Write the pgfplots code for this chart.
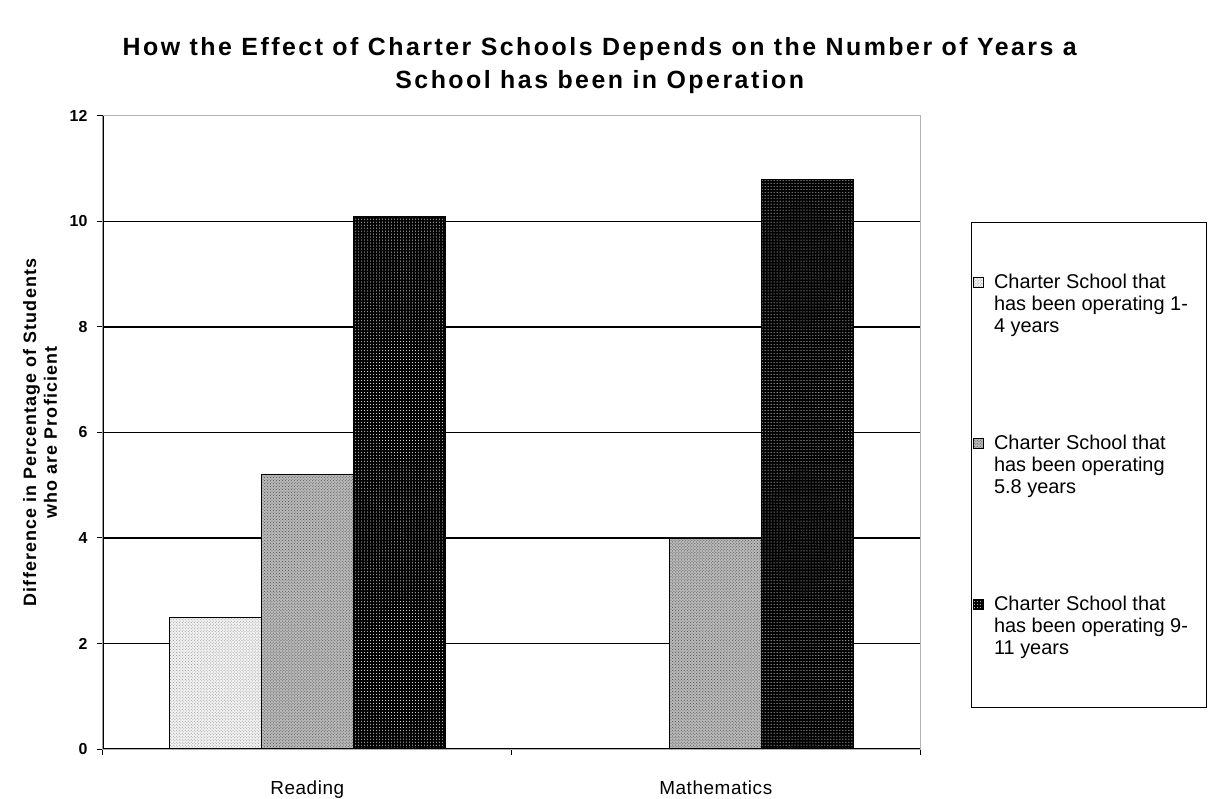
\documentclass[border=0pt]{standalone}
\usepackage{pgfplots}
\pgfplotsset{compat=1.18}
\usepackage{fontspec}
\setmainfont{Liberation Sans}
\usetikzlibrary{patterns}
\pgfplotsset{sqlegend/.style={legend image code/.code={\draw[##1, line width=0.6bp] (0bp,17bp) rectangle (10bp,27bp);}}}
\begin{document}
\begin{tikzpicture}
\useasboundingbox (-103bp,-50bp) rectangle (1108bp,749bp);
\begin{axis}[
  scale only axis, width=817bp, height=633bp,
  xmin=-0.5, xmax=1.5, ymin=0, ymax=12,
  ybar=0pt, bar width=0.225,
  axis line style={draw=gray!60, line width=1bp},
  xtick pos=bottom, ytick pos=left,
  xtick={-0.5,0.5,1.5}, xticklabels={},
  extra x ticks={0,1}, extra x tick labels={Reading,Mathematics},
  extra x tick style={major tick length=0pt, xticklabel style={yshift=-28bp}},
  xticklabel style={font=\fontsize{19}{21}\selectfont\addfontfeature{LetterSpace=3}},
  ytick={0,2,...,10}, extra y ticks={12}, extra y tick style={grid=none},
  yticklabel style={font=\fontsize{16}{18}\selectfont\bfseries, xshift=-6bp},
  /pgf/number format/assume math mode=true,
  ymajorgrids, grid style={black, line width=1.4bp},
  tick align=outside, major tick length=6bp,
  tick style={black, line width=1bp},
  title={How the Effect of Charter Schools Depends on the Number of Years a\\School has been in Operation},
  title style={align=center, font=\fontsize{25}{33}\selectfont\bfseries\addfontfeature{LetterSpace=10}, at={(axis description cs:0.608,1.070)}, anchor=center},
  ylabel={Difference in Percentage of Students\\who are Proficient},
  ylabel style={align=center, font=\fontsize{18}{21}\selectfont\bfseries\addfontfeature{LetterSpace=6}, at={(axis description cs:-0.077,0.5)}, anchor=center},
  legend style={at={(axis description cs:1.0624,0.8325)}, anchor=north west,
    draw=black, line width=1bp, inner xsep=2bp, inner ysep=50bp, row sep=97bp,
    font=\fontsize{20}{22}\selectfont, cells={anchor=west, align=left},
    /tikz/every odd column/.append style={column sep=8bp}},
  legend cell align=left,
]
\addplot[draw=black, line width=0.8bp, fill=gray!10, postaction={pattern=crosshatch dots, pattern color=gray!85}, sqlegend]
  coordinates {(0,2.5)};
\addlegendentry{\makebox[208bp][l]{Charter School that}\\has been operating 1-\\4 years}
\addplot[draw=black, line width=0.8bp, fill=gray!55, postaction={pattern=crosshatch dots, pattern color=black!70}, sqlegend]
  coordinates {(0,5.2) (1,4.0)};
\addlegendentry{Charter School that\\has been operating\\5.8 years}
\addplot[draw=black, line width=0.8bp, fill=black, postaction={pattern=dots, pattern color=white}, sqlegend]
  coordinates {(0,10.1) (1,10.8)};
\addlegendentry{Charter School that\\has been operating 9-\\11 years}
\draw[black, line width=1.3bp] (rel axis cs:0,0) -- (rel axis cs:1,0);
\draw[black, line width=1.3bp] (rel axis cs:0,0) -- (rel axis cs:0,1);
\end{axis}
\end{tikzpicture}
\end{document}
